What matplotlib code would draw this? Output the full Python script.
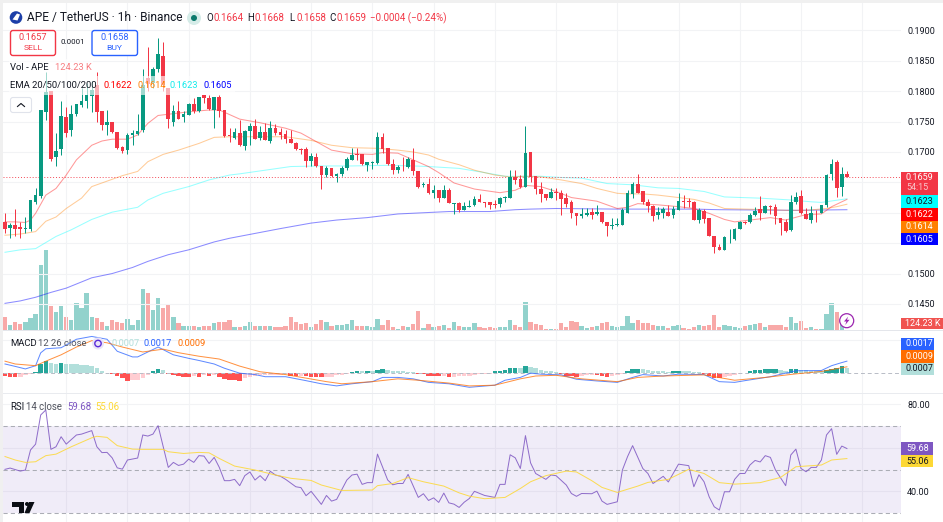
import numpy as np
import matplotlib
matplotlib.use('Agg')
import matplotlib.pyplot as plt
from matplotlib.patches import Rectangle, FancyBboxPatch, Circle, Polygon

plt.rcParams['font.family'] = ['Roboto', 'DejaVu Sans']

# OHLC quoted in units of 0.0001 USDT, one candle per hour
opens = np.array([1585,1575,1580,1576,1574,1573,1618,1628,1766,1800,
    1691,1705,1757,1736,1762,1777,1783,1792,1810,1767,
    1745,1749,1733,1708,1703,1728,1729,1736,1822,1814,
    1836,1858,1805,1750,1767,1757,1761,1779,1767,1793,
    1788,1769,1790,1769,1728,1723,1731,1710,1735,1743,
    1723,1732,1718,1739,1732,1730,1721,1715,1705,1705,
    1685,1692,1677,1662,1673,1660,1663,1673,1687,1696,
    1696,1679,1682,1682,1725,1706,1680,1671,1676,1675,
    1687,1669,1645,1647,1632,1637,1625,1638,1615,1616,
    1605,1610,1612,1623,1618,1617,1614,1614,1625,1625,
    1659,1655,1643,1700,1660,1639,1631,1625,1634,1633,
    1624,1617,1600,1594,1596,1601,1598,1601,1584,1579,
    1580,1580,1600,1631,1647,1635,1618,1611,1596,1600,
    1602,1596,1605,1620,1619,1617,1588,1603,1591,1562,
    1543,1538,1558,1557,1574,1585,1584,1596,1606,1600,
    1611,1609,1592,1585,1572,1617,1628,1598,1588,1600,
    1599,1612,1663,1683,1642,1664]) / 1e4
highs = np.array([1599,1583,1606,1585,1593,1621,1640,1769,1832,1800,
    1731,1783,1774,1777,1779,1805,1813,1816,1832,1768,
    1769,1750,1733,1710,1731,1736,1762,1836,1873,1840,
    1887,1881,1805,1777,1783,1767,1780,1788,1791,1794,
    1794,1790,1794,1769,1739,1739,1753,1736,1747,1755,
    1742,1747,1751,1746,1739,1736,1736,1717,1707,1708,
    1698,1698,1677,1677,1673,1665,1677,1692,1706,1706,
    1696,1684,1685,1732,1731,1706,1688,1679,1692,1692,
    1706,1669,1650,1657,1646,1637,1646,1640,1616,1617,
    1617,1621,1628,1631,1618,1617,1621,1626,1628,1670,
    1670,1662,1742,1700,1660,1651,1631,1640,1640,1637,
    1633,1621,1600,1607,1607,1607,1613,1602,1584,1591,
    1592,1607,1638,1651,1663,1636,1622,1613,1609,1609,
    1612,1611,1633,1629,1624,1619,1607,1606,1591,1562,
    1549,1561,1574,1575,1586,1586,1599,1610,1628,1613,
    1613,1614,1592,1589,1629,1634,1637,1607,1611,1604,
    1613,1663,1688,1687,1675,1668]) / 1e4
lows = np.array([1566,1559,1561,1558,1566,1570,1615,1624,1753,1685,
    1677,1695,1725,1727,1759,1774,1773,1765,1750,1736,
    1728,1731,1705,1699,1697,1712,1728,1733,1800,1805,
    1832,1800,1739,1742,1754,1750,1761,1764,1766,1780,
    1769,1739,1758,1725,1717,1722,1710,1704,1711,1721,
    1720,1720,1714,1728,1722,1715,1714,1703,1697,1676,
    1677,1676,1639,1658,1658,1651,1660,1671,1686,1687,
    1679,1669,1672,1681,1698,1679,1664,1666,1668,1673,
    1662,1640,1643,1631,1624,1618,1624,1616,1598,1601,
    1605,1609,1611,1618,1610,1606,1607,1609,1618,1624,
    1647,1640,1642,1651,1631,1618,1621,1625,1621,1596,
    1610,1591,1580,1591,1595,1589,1596,1583,1562,1574,
    1578,1580,1600,1625,1632,1615,1602,1587,1590,1591,
    1594,1592,1605,1607,1609,1588,1583,1583,1561,1533,
    1538,1538,1550,1556,1574,1581,1583,1595,1588,1599,
    1598,1581,1564,1569,1570,1615,1598,1589,1583,1585,
    1599,1610,1654,1626,1628,1658]) / 1e4
closes = np.array([1574,1580,1574,1573,1575,1621,1630,1769,1799,1688,
    1702,1759,1731,1763,1779,1784,1794,1802,1766,1745,
    1750,1732,1706,1702,1728,1731,1735,1810,1812,1836,
    1861,1810,1755,1767,1755,1763,1779,1768,1791,1788,
    1770,1790,1768,1726,1727,1732,1711,1735,1743,1722,
    1732,1720,1740,1731,1728,1721,1715,1705,1704,1685,
    1693,1677,1662,1673,1661,1664,1673,1688,1695,1695,
    1680,1683,1683,1725,1705,1680,1671,1676,1675,1688,
    1668,1642,1648,1632,1637,1625,1637,1616,1616,1605,
    1611,1611,1623,1618,1616,1613,1613,1625,1626,1659,
    1654,1642,1699,1658,1639,1631,1625,1634,1633,1623,
    1615,1599,1595,1598,1599,1596,1601,1584,1578,1580,
    1581,1605,1632,1647,1633,1617,1611,1595,1601,1606,
    1595,1606,1619,1617,1617,1588,1605,1590,1562,1543,
    1538,1560,1559,1574,1584,1583,1596,1603,1600,1611,
    1609,1594,1583,1570,1617,1626,1599,1590,1600,1599,
    1612,1662,1681,1640,1664,1659]) / 1e4

# volume in thousands of APE
volumes = [1419,627,924,660,858,1287,1716,6567,8052,2508,
    1947,2508,1386,1089,2805,2277,3762,1386,1320,858,
    528,1089,858,792,1221,627,1089,4191,3795,2112,
    3300,2277,2706,1419,825,495,528,462,429,462,
    528,825,924,924,1089,429,429,528,924,528,
    528,495,495,429,429,495,1419,858,726,792,
    429,726,1089,858,462,561,561,726,1089,495,
    495,495,429,1221,627,1089,429,231,462,396,
    726,2046,330,726,429,528,627,330,891,495,
    396,396,759,396,330,363,297,396,396,1089,
    594,429,2904,924,726,594,198,198,231,792,
    429,990,858,462,330,396,462,759,891,495,
    429,462,1485,759,1089,759,759,594,495,495,
    297,462,594,264,165,396,594,462,594,1650,
    429,594,462,396,297,462,594,693,759,429,
    594,594,561,396,1386,759,990,297,396,198,
    165,1716,2772,1881,825,124.23]

# moving averages, read at selected candles
ema20_x = [0,2,4,5,6,8,10,12,14,17,19,21,24,26,28,30,32,36,40,42,46,50,55,58,61,64,68,72,74,77,80,83,85,88,92,97,100,102,105,108,111,116,120,122,124,128,132,135,138,141,143,146,150,153,157,160,162,165]
ema20_y = [1585,1585,1584,1588,1599,1629,1640,1662,1687,1711,1718,1721,1721,1728,1747,1760,1762,1766,1769,1769,1754,1748,1739,1731,1717,1703,1697,1696,1699,1698,1687,1676,1666,1649,1639,1633,1637,1645,1643,1635,1625,1619,1607,1609,1615,1613,1610,1607,1599,1589,1585,1588,1592,1588,1597,1598,1610,1622]
ema50_x = [0,3,6,8,10,12,15,17,20,23,26,28,31,34,38,41,44,49,55,60,64,68,73,77,80,83,85,89,92,96,99,102,105,109,113,116,120,122,125,128,132,135,138,141,145,150,153,157,161,163,165]
ema50_y = [1563,1565,1569,1586,1593,1607,1624,1643,1652,1661,1668,1684,1696,1703,1714,1724,1725,1725,1725,1719,1711,1707,1706,1703,1700,1695,1688,1679,1670,1662,1659,1660,1659,1654,1648,1640,1632,1631,1631,1629,1625,1622,1616,1607,1606,1605,1604,1604,1607,1610,1614]
ema100_x = [0,3,6,8,10,13,17,21,26,28,31,36,40,44,46,51,56,62,68,75,80,83,85,89,94,98,105,109,113,118,123,128,132,137,141,148,154,158,160,165]
ema100_y = [1535,1539,1541,1551,1561,1572,1589,1601,1609,1621,1632,1643,1654,1662,1664,1670,1676,1677,1677,1678,1677,1676,1675,1673,1666,1660,1660,1658,1657,1648,1646,1641,1640,1635,1626,1624,1621,1618,1617,1623]
ema200_x = [0,3,6,9,12,17,21,25,28,32,36,41,44,54,60,65,71,77,87,95,100,103,108,120,128,135,140,155,165]
ema200_y = [1451,1455,1461,1469,1476,1493,1500,1510,1520,1531,1539,1552,1558,1574,1583,1588,1592,1598,1602,1602,1605,1606,1607,1606,1606,1606,1605,1604,1605]

# MACD histogram and lines, units of 0.0001
macd_hist = [-4.3,-4.8,-5.3,-5.3,-2.4,-1.4,1.0,13.4,17.8,14.4,
    13.4,14.4,12.5,12.5,12.5,11.5,11.5,10.6,6.7,2.9,
    0,-1.0,-3.8,-7.2,-10.6,-9.6,-9.6,-7.2,-1.9,2.4,
    5.8,3.8,-1.0,-2.4,-4.3,-5.3,-5.8,-3.8,-4.8,-2.4,
    -3.4,-1.9,-5.8,-8.6,-9.6,-9.7,-10.6,-7.2,-5.8,-4.3,
    -2.4,-1.9,-1.9,-1.9,-1.9,-1.4,-3.8,-4.3,-4.3,-4.4,
    -4.8,-5.3,-5.8,-5.3,-5.3,-2.9,-1.9,-1.0,1.4,2.9,
    2.9,3.4,3.4,4.3,5.8,3.8,3.4,2.9,2.4,1.9,
    1.8,-0.5,-1.0,-3.4,-3.8,-4.3,-4.2,-4.8,-4.8,-4.3,
    -3.4,-3.3,-2.4,-1.4,-1.0,-0.5,2.4,2.9,4.3,6.7,
    7.2,7.1,10.1,8.6,6.7,4.3,3.4,2.9,1.9,-0.5,
    -3.4,-4.3,-4.8,-3.4,-2.9,-1.9,-2.4,-4.3,-4.8,-3.4,
    -1.9,-0.5,2.9,5.8,6.2,5.3,3.8,2.9,2.8,2.4,
    1.9,3.4,3.5,3.4,2.9,1.9,1.4,-1.0,-3.8,-6.2,
    -7.2,-5.3,-4.3,-2.9,-1.4,0.0,3.4,3.8,4.3,5.3,
    6.2,6.3,4.3,3.4,5.3,6.2,4.8,3.8,3.4,3.3,
    2.9,4.3,5.8,6.7,9.6,7.0]
macd_x = [0,2,4,6,7,8,11,14,17,20,22,25,26,28,30,33,36,38,41,43,46,49,51,55,59,62,65,68,72,74,77,80,83,87,91,96,98,101,103,105,109,112,116,120,123,125,129,132,137,140,143,145,150,155,160,162,164,165]
macd_y = [13,9.6,6,10.6,28.8,34.6,36,48,52,48,31,23,23,30,37,26,21,18,13,7,0,-2,-5,-5,-10.6,-15,-18,-15,-12,-6,-6,-8,-13,-15,-20,-17,-10,-6,0,-1.4,-2.4,-8.6,-11,-13,-6,-2,-4,-1.4,-2,-12,-13,-10.6,-5,3.4,3.8,10.6,15,17]
signal_x = [0,2,6,8,11,14,17,20,23,27,31,34,38,42,46,50,55,59,63,66,72,77,81,87,91,96,101,104,108,113,120,124,129,137,143,149,155,160,165]
signal_y = [17,13,10.6,17,26,37,46,43,37,30,34,29,24,20,10,2,-2,-7,-12,-15,-12,-8,-10,-14,-18,-17,-8,-4,-3,-8,-12,-6,-4,-2.4,-10,-6,-1,2.4,9]

# RSI and its moving average
rsi_x = [0,1,3,4,5,6,7,8,9,10,11,12,14,15,17,18,19,20,21,22,23,24,26,27,28,29,30,32,33,34,35,36,37,38,39,40,41,42,43,44,45,46,47,48,49,50,51,52,53,54,55,57,58,59,60,62,63,64,65,67,68,69,70,71,72,73,75,76,77,78,79,81,82,83,84,85,86,87,88,89,90,91,92,94,96,97,98,99,100,101,102,103,104,106,107,108,110,111,112,113,115,116,117,118,120,121,122,123,125,126,127,129,130,132,134,135,136,137,138,139,140,141,142,143,144,145,146,147,148,149,150,151,153,154,155,156,157,158,159,160,161,162,163,164,165]
rsi_y = [50.1,50.7,49.3,49.8,59,61.7,75.1,77.4,59.3,60.5,65.1,61.7,65.9,66.3,67.9,60.5,57.8,57.9,55.4,50.8,50.2,54.4,55.3,65.9,65.4,66.3,70.2,51,53.3,51.9,52.5,54.8,53.3,56.4,56.2,52.8,55.6,51,44.9,44.9,45.5,42.6,47.2,48.9,45.2,47.2,44.9,49.2,47.5,46.9,45.5,42.1,41.7,38,40,34,38.1,35.5,36.3,45.2,47.5,47.9,43.2,44,44,57.1,45.2,43,43.6,43.6,47.8,37.2,38.9,35.8,37,34.9,39.2,34.7,34.1,32.6,35,36.7,40,38.1,37.2,43.2,43.2,56.8,55.4,50.5,65.6,53.1,48.2,45.5,47.5,47.2,42.9,39,37.7,39,38.9,40.1,35.5,34,35.2,49.8,55.9,61,50.5,48.2,43.6,46.9,44.3,52.5,51.8,42.1,47.6,44.4,37.5,32.9,31.4,39.8,39.8,45.5,48.2,48.2,52.1,54.2,53.5,56.4,55.6,49.8,42.6,56.7,59.4,50.5,49,51,51,54.4,65.9,68.8,57,60.8,59.68]
rsi_ma_x = [0,2,4,6,8,10,13,17,18,20,22,25,27,31,32,35,38,40,42,45,47,49,53,56,60,62,66,72,73,76,79,82,86,89,91,94,98,101,103,106,110,112,115,117,120,124,126,130,134,137,140,143,148,152,155,160,162,165]
rsi_ma_y = [56,54.4,53.3,53.6,56.4,57.1,60.5,64.6,65.3,64.8,61,59.4,59.3,59.3,58.2,57.4,57.9,57.7,55.1,51.6,50.7,49.8,47.5,46,45,42.9,40.4,40.6,42.6,43.6,46.3,44.4,42.4,39.3,37.8,36.6,37.2,41.3,44.4,47.2,49.3,48.9,44.9,41.8,39.5,42.4,44.1,45.5,50.1,48.2,44,43.3,44,46.4,51.3,52.1,54.4,55.06]

price_ticks = [0.145, 0.15, 0.155, 0.16, 0.165, 0.17, 0.175, 0.18, 0.185, 0.19]
# these levels sit behind the value tags, so only their grid line is kept
price_hidden = [0.155, 0.16, 0.165]
rsi_ticks = [40, 60, 80]
rsi_hidden = [60]
time_ticks = list(range(12, 180, 12))

W, H = 943, 522
GREEN, RED = '#089981', '#F23645'
GRID = '#F2F3F5'
TEXT = '#131722'
TICK_SIZE = 6.5

fig = plt.figure(figsize=(W / 100, H / 100), dpi=100, facecolor='#F0F0F0')


def pane(top, bottom):
    # one chart pane, given by its pixel rows
    ax = fig.add_axes([3 / W, 1 - bottom / H, (901 - 3) / W, (bottom - top) / H])
    ax.set_xlim(-0.39, 175.6)
    ax.set_xticks(time_ticks)
    ax.tick_params(length=0, labelbottom=False, labelleft=False, labelright=True,
                   right=False, left=False, bottom=False, pad=4.5, labelsize=TICK_SIZE, labelcolor=TEXT)
    ax.grid(True, color=GRID, lw=0.8)
    ax.set_axisbelow(True)
    for s in ax.spines.values():
        s.set_visible(False)
    return ax


x = np.arange(len(closes))
up = closes >= opens

# white plotting area behind the panes
back = fig.add_axes([3 / W, 0, 1 - 3 / W, 1 - 3 / H])
back.axis('off')
back.add_patch(Rectangle((0, 0), 1, 1, color='white', transform=back.transAxes))

# volume sits under the candles in the main pane
ax_vol = pane(3, 331)
ax_vol.set_ylim(0, 32800)
ax_vol.set_yticks([])
ax_vol.grid(False)
ax_vol.patch.set_visible(False)
ax_vol.bar(x, volumes, width=0.84, color=['#92D2CC' if u else '#F8A9A8' for u in up], lw=0)

# main pane: candles and the four EMAs
ax = pane(3, 331)
ax.patch.set_visible(False)
ax.set_ylim(0.14055, 0.1945)
ax.set_yticks(price_ticks)
ax.set_yticklabels(['' if p in price_hidden else '%.4f' % p for p in price_ticks])
ax.plot(ema200_x, np.array(ema200_y) / 1e4, color='#0000FF', alpha=0.45, lw=0.75)
ax.plot(ema100_x, np.array(ema100_y) / 1e4, color='#00FFFF', alpha=0.4, lw=0.75)
ax.plot(ema50_x, np.array(ema50_y) / 1e4, color='#FF8000', alpha=0.4, lw=0.75)
ax.plot(ema20_x, np.array(ema20_y) / 1e4, color='#FF0000', alpha=0.4, lw=0.75)
colors = [GREEN if u else RED for u in up]
ax.vlines(x, lows, highs, color=colors, lw=0.72, zorder=3)
ax.bar(x, np.abs(closes - opens), bottom=np.minimum(opens, closes), width=0.72, color=colors, lw=0, zorder=4)
ax.axhline(closes[-1], color=RED, lw=0.7, ls=(0, (1, 2)), alpha=0.9, zorder=2)

# MACD pane
ax_m = pane(331, 393)
ax_m.set_ylim(-28.06e-4, 59.7e-4)
ax_m.set_yticks([47e-4])
ax_m.set_yticklabels([''])
hist_colors = []
for i, v in enumerate(macd_hist):
    prev = macd_hist[i - 1] if i else 0
    if v >= 0:
        hist_colors.append('#26A69A' if v > prev else '#B2DFDB')
    else:
        hist_colors.append('#FF5252' if v < prev else '#FFCDD2')
ax_m.bar(x, np.array(macd_hist) / 1e4, width=0.88, color=hist_colors, lw=0)
ax_m.axhline(0, color='#B8BCC6', lw=0.7, ls=(0, (4, 3)), zorder=1)
ax_m.plot(macd_x, np.array(macd_y) / 1e4, color='#2962FF', lw=0.72, alpha=0.75)
ax_m.plot(signal_x, np.array(signal_y) / 1e4, color='#FF6D00', lw=0.72, alpha=0.75)

# RSI pane
ax_r = pane(393, 522)
ax_r.set_ylim(25.9, 85.2)
ax_r.set_yticks(rsi_ticks)
ax_r.set_yticklabels(['' if t in rsi_hidden else '%.2f' % t for t in rsi_ticks])
ax_r.axhspan(30, 70, color='#7E57C2', alpha=0.11, lw=0)
for level in [30, 50, 70]:
    ax_r.axhline(level, color='#ABADB5', lw=0.75, ls=(0, (4, 3)))
ax_r.plot(rsi_x, rsi_y, color='#7E57C2', lw=0.72, alpha=0.85)
ax_r.plot(rsi_ma_x, rsi_ma_y, color='#FDD835', lw=0.72, alpha=0.85)

# everything else is laid out in pixel coordinates on a top layer
top = fig.add_axes([0, 0, 1, 1], zorder=10)
top.set_xlim(0, W)
top.set_ylim(H, 0)
top.axis('off')


def label(px, py, s, color=TEXT, size=6.7, ha='left', weight='normal'):
    top.text(px, py, s, color=color, fontsize=size, ha=ha, va='center', fontweight=weight)


def box(x0, y0, x1, y1, fc, ec='none', lw=1.0, r=2.5, alpha=1.0):
    top.add_patch(FancyBboxPatch((x0 + r, y0 + r), x1 - x0 - 2 * r, y1 - y0 - 2 * r,
                                 boxstyle='round,pad=%g,rounding_size=%g' % (r, r),
                                 fc=fc, ec=ec, lw=lw, alpha=alpha))


# separators between the panes
top.add_patch(Rectangle((3, 330.2), W, 1.2, color='#E4E6EB', lw=0))
top.add_patch(Rectangle((3, 392.6), W, 1.0, color='#E9EBEF', lw=0))

# legend rows fade whatever is behind them
top.add_patch(Rectangle((9, 76), 226, 19, color='white', alpha=0.62, lw=0))
top.add_patch(Rectangle((9, 59), 84, 17, color='white', alpha=0.62, lw=0))

# header
top.add_patch(Circle((16, 17.5), 6.3, color='#1C3FA8', lw=0))
top.add_patch(Polygon([(12.5, 19.5), (17, 13.5), (20, 14.5), (17.5, 20.5)], color='white', lw=0))
label(27, 17.5, 'APE / TetherUS · 1h · Binance', size=8.6)
top.add_patch(Circle((194, 18), 7, color='#D5ECE8', lw=0))
top.add_patch(Circle((194, 18), 3, color='#0B7A6C', lw=0))
hdr_red = '#F23645'
for px, name, val in [(206.5, 'O', '0.1664'), (247.5, 'H', '0.1668'), (289, 'L', '0.1658'), (329, 'C', '0.1659')]:
    label(px, 18, name, size=7.0)
    label(px + 7.4, 18, val, color=hdr_red, size=7.0)
label(370, 18, '\u22120.0004 (\u22120.24%)', color=hdr_red, size=7.0)

# sell / buy buttons
box(10.5, 30.5, 55.5, 55.5, 'white', RED, 1.0)
label(33, 38, '0.1657', color=RED, ha='center')
label(33, 48, 'SELL', color=RED, size=6.1, ha='center')
label(73, 42, '0.0001', size=5.7, ha='center')
box(92, 30.5, 137.5, 55.5, 'white', '#2962FF', 1.0)
label(114.5, 38, '0.1658', color='#2962FF', ha='center')
label(114.5, 48, 'BUY', color='#2962FF', size=6.1, ha='center')

# study legends
label(10, 67.5, 'Vol - APE', size=6.8)
label(55, 67.5, '124.23 K', color='#F77C80')
label(10, 85.5, 'EMA 20/50/100/200', size=6.8)
label(103, 85.5, '0.1622', color='#FF0000')
label(137, 85.5, '0.1614', color='#FF8000')
label(170, 85.5, '0.1623', color='#12ECEC')
label(204, 85.5, '0.1605', color='#0000FF')
box(10.5, 97.5, 31.5, 112.5, 'white', '#E0E3EB', 0.8)
top.plot([17.5, 21, 24.5], [106.5, 103.5, 106.5], color=TEXT, lw=0.8)

label(10, 343.5, 'MACD', size=6.8)
label(37.5, 343.5, '12 26 close', color='#50535E', size=6.8)
top.add_patch(Circle((98, 343.5), 6, color='#E9E3F7', lw=0))
top.add_patch(Circle((98, 343.5), 3.2, fc='none', ec='#5B2BD9', lw=1.0))
label(111, 343.5, '0.0007', color='#B2DFDB')
label(144, 343.5, '0.0017', color='#2962FF')
label(178, 343.5, '0.0009', color='#FF6D00')

label(10, 406.5, 'RSI', size=6.9)
label(25.5, 406.5, '14 close', color='#50535E', size=6.9)
label(67, 406.5, '59.68', color='#7E57C2', size=6.9)
label(95, 406.5, '55.06', color='#FDD835', size=6.9)

# logo in the corner
top.add_patch(Polygon([(12, 502), (24, 502), (24, 513), (19, 513), (19, 506.5), (12, 506.5)], color='#0B0E14', lw=0))
top.add_patch(Circle((27, 504), 2, color='#0B0E14', lw=0))
top.add_patch(Polygon([(29, 502), (34.5, 502), (29.5, 513), (24.5, 513)], color='#0B0E14', lw=0))

# lightning badge on the volume pane
top.add_patch(Circle((846.7, 320.7), 7, fc='white', ec='#9C27B0', lw=0.9))
top.add_patch(Polygon([(848.2, 316.5), (844, 321.5), (846.4, 321.5), (845.2, 325), (849.5, 319.8), (847, 319.8)],
                      color='#9C27B0', lw=0))

# value tags on the right edge
tags = [(172, 195, RED, None, 'white'),
        (195, 208, '#00FFFF', '0.1623', TEXT),
        (208, 220.5, '#FF0000', '0.1622', 'white'),
        (220.5, 233, '#FF8000', '0.1614', 'white'),
        (233, 245, '#0000FF', '0.1605', 'white'),
        (337.5, 350, '#2962FF', '0.0017', 'white'),
        (350, 362.7, '#FF6D00', '0.0009', 'white'),
        (362.7, 374.5, '#B2DFDB', '0.0007', TEXT)]
for y0, y1, fc, s, tc in tags:
    top.add_patch(Rectangle((901, y0), 37 if y1 < 300 else 33, y1 - y0, color=fc, lw=0))
    if s:
        label(906, (y0 + y1) / 2, s, color=tc, size=TICK_SIZE)
label(906, 177, '%.4f' % closes[-1], color='white', size=TICK_SIZE)
label(906, 187.7, '54:15', color='#F9C6CB', size=TICK_SIZE)
top.add_patch(Rectangle((901, 318), 42, 11.2, color='#F05350', lw=0))
label(905, 323.8, '124.23 K', color='white', size=TICK_SIZE)
top.add_patch(Rectangle((901, 441.7), 32, 13, color='#7E57C2', lw=0))
label(906, 448.3, '59.68', color='white', size=TICK_SIZE)
top.add_patch(Rectangle((901, 454.7), 32, 12.6, color='#FDD835', lw=0))
label(906, 461, '55.06', color=TEXT, size=TICK_SIZE)

fig.savefig('out.png', dpi=100, facecolor=fig.get_facecolor())
